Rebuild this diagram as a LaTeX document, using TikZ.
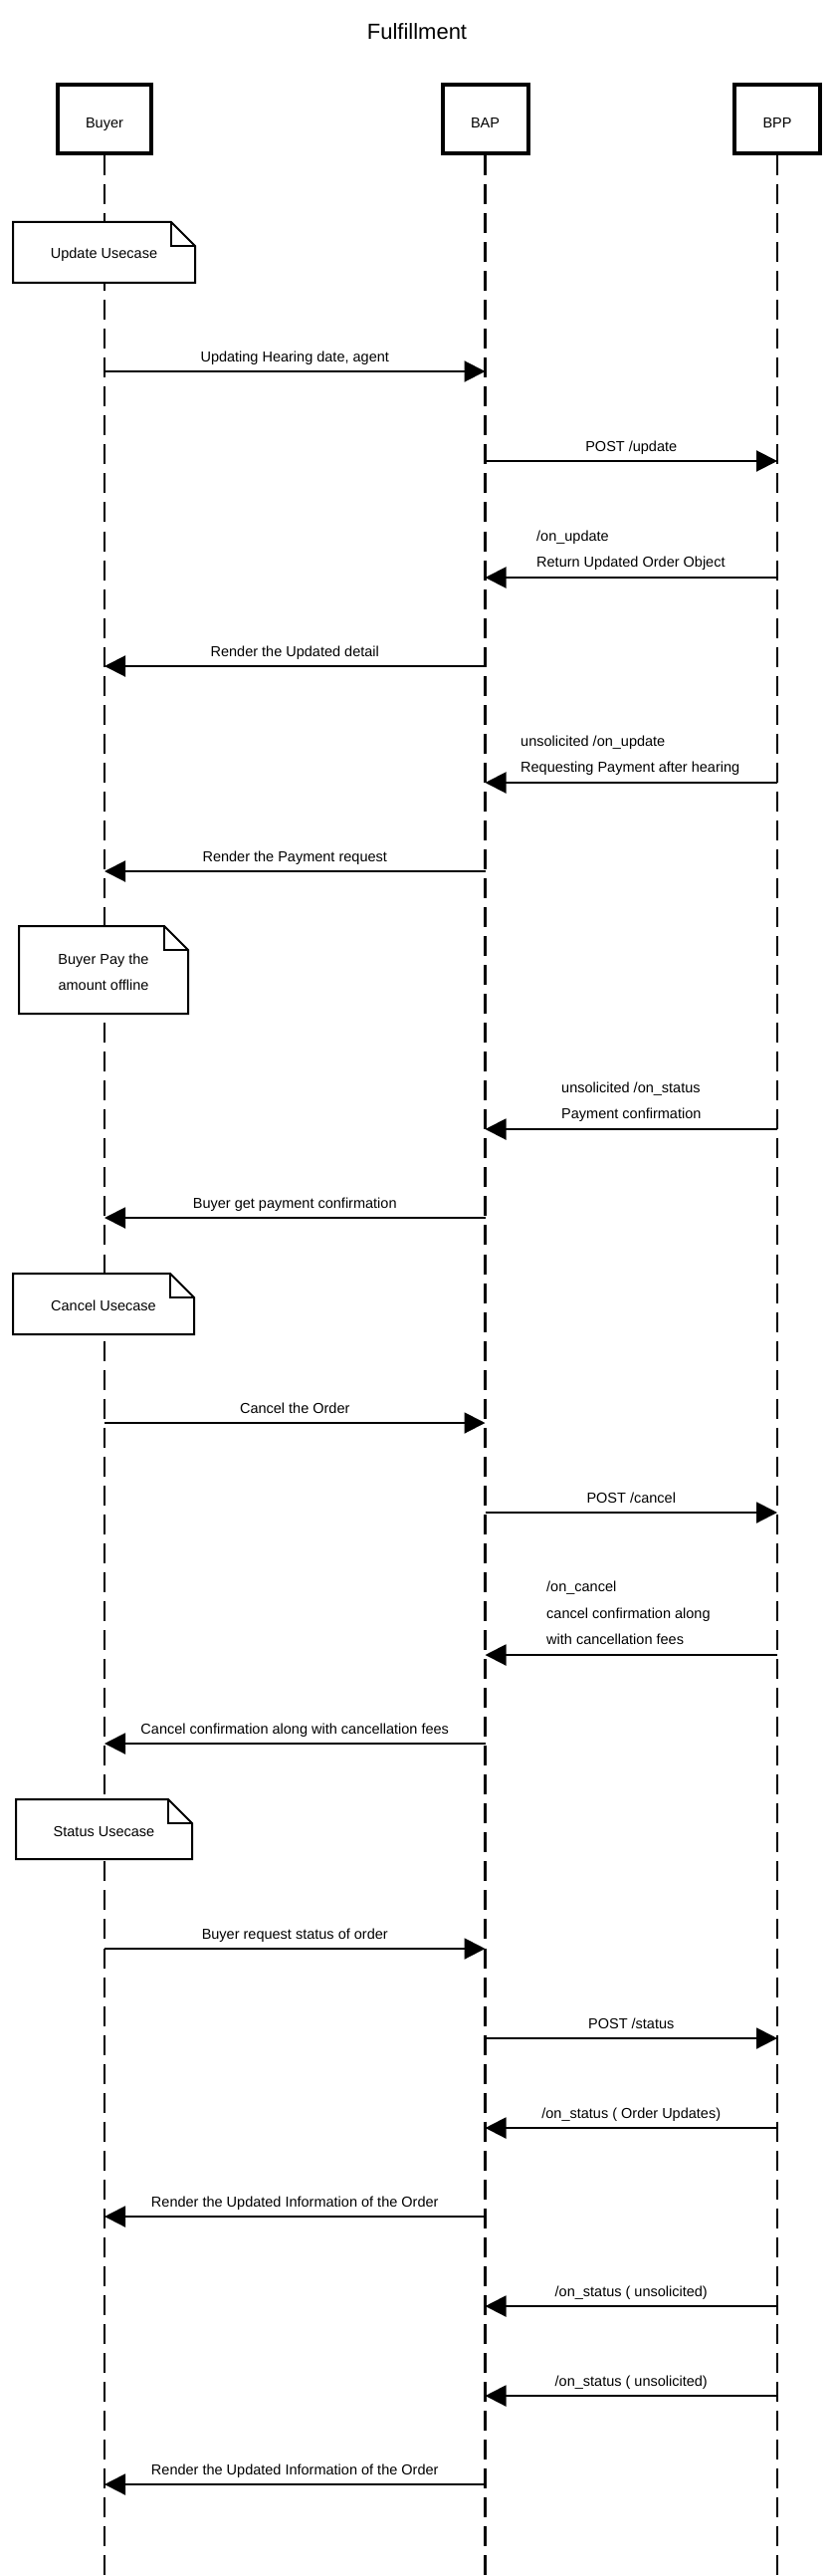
\documentclass[tikz,border=0pt]{standalone}
\usepackage{fontspec}
\setmainfont{Liberation Sans}
\usetikzlibrary{arrows.meta}
\newcommand\lblfont{\fontsize{14.5}{17}\selectfont}
\newcommand\ttlfont{\fontsize{22}{26}\selectfont}
\tikzset{
  actor/.style={draw=black, line width=4pt, fill=white, minimum height=69pt,
    text height=19pt, text depth=0pt, inner sep=0pt, font=\lblfont},
  lifeline/.style={line width=2.5pt, dash pattern=on 20pt off 9.04pt},
  notepath/.style={draw=black, line width=2pt, fill=white, line join=miter},
  msgarrow/.style={line width=2pt, -{Triangle[length=21pt,width=21pt]}},
  lbl/.style={font=\lblfont, inner sep=0pt},
  ttl/.style={font=\ttlfont, inner sep=0pt, anchor=base}
}
\newcommand\notebox[4]{%
  \filldraw[notepath] (#1,#2) -- ({#3-24},#2) -- (#3,{#2+24}) -- (#3,#4) -- (#1,#4) -- cycle;
  \draw[notepath, fill=none] ({#3-24},#2) -- ({#3-24},{#2+24}) -- (#3,{#2+24});}
\newcommand\msg[5]{%
  \draw[msgarrow] (#2 |- 0,#4) -- (#3 |- 0,#4)
    node[lbl, midway, anchor=base, yshift=10pt] (#1) {#5};}
\newcommand\msgbare[3]{%
  \draw[msgarrow] (#1 |- 0,#3) -- (#2 |- 0,#3);}
\begin{document}
\begin{tikzpicture}[x=1pt,y=-1pt]
\useasboundingbox (0,0) rectangle (836,2587);
\node[ttl] (title) at (419,40) {Fulfillment};

% actors
\node[actor, minimum width=94pt] (buyer) at (105,119.5) {Buyer};
\node[actor, minimum width=86pt] (bap) at (487.5,119.5) {BAP};
\node[actor, minimum width=86pt] (bpp) at (781,119.5) {BPP};

% lifelines
\coordinate (buyerEnd) at (buyer |- 0,2587);
\coordinate (bapEnd) at (bap |- 0,2587);
\coordinate (bppEnd) at (bpp |- 0,2587);
\draw[lifeline] (buyer.south) -- (buyerEnd);
\draw[lifeline] (bap.south) -- (bapEnd);
\draw[lifeline] (bpp.south) -- (bppEnd);

% notes
\notebox{13}{223}{196}{284}
\node[lbl, anchor=base] (note1) at (104.5,260) {Update Usecase};
\notebox{19}{930}{189}{1018}
\node[lbl, anchor=base] (note2a) at (104,968) {Buyer Pay the};
\node[lbl, anchor=base] (note2b) at (104,994) {amount offline};
\notebox{13}{1279}{195}{1340}
\node[lbl, anchor=base] (note3) at (104,1316) {Cancel Usecase};
\notebox{16}{1807}{193}{1867}
\node[lbl, anchor=base] (note4) at (104.5,1844) {Status Usecase};

% update usecase
\msg{m1}{buyer}{bap}{373}{Updating Hearing date, agent}
\msg{m2}{bap}{bpp}{463}{POST /update}
\msgbare{bpp}{bap}{580}
\node[lbl, anchor=base west] (m3a) at (539,543) {/on\_update};
\node[lbl, anchor=base west] (m3b) at (539,569) {Return Updated Order Object};
\msg{m4}{bap}{buyer}{669}{Render the Updated detail}
\msgbare{bpp}{bap}{786}
\node[lbl, anchor=base west] (m5a) at (523,749) {unsolicited /on\_update};
\node[lbl, anchor=base west] (m5b) at (523,775) {Requesting Payment after hearing};
\msg{m6}{bap}{buyer}{875}{Render the Payment request}
\msgbare{bpp}{bap}{1134}
\node[lbl, anchor=base west] (m7a) at (564,1097) {unsolicited /on\_status};
\node[lbl, anchor=base west] (m7b) at (564,1123) {Payment confirmation};
\msg{m8}{bap}{buyer}{1223}{Buyer get payment confirmation}

% cancel usecase
\msg{m9}{buyer}{bap}{1429}{Cancel the Order}
\msg{m10}{bap}{bpp}{1519}{POST /cancel}
\msgbare{bpp}{bap}{1662}
\node[lbl, anchor=base west] (m11a) at (549,1598) {/on\_cancel};
\node[lbl, anchor=base west] (m11b) at (549,1625) {cancel confirmation along};
\node[lbl, anchor=base west] (m11c) at (549,1651) {with cancellation fees};
\msg{m12}{bap}{buyer}{1751}{Cancel confirmation along with cancellation fees}

% status usecase
\msg{m13}{buyer}{bap}{1957}{Buyer request status of order}
\msg{m14}{bap}{bpp}{2047}{POST /status}
\msg{m15}{bpp}{bap}{2137}{/on\_status ( Order Updates)}
\msg{m16}{bap}{buyer}{2226}{Render the Updated Information of the Order}
\msg{m17}{bpp}{bap}{2316}{/on\_status ( unsolicited)}
\msg{m18}{bpp}{bap}{2406}{/on\_status ( unsolicited)}
\msg{m19}{bap}{buyer}{2495}{Render the Updated Information of the Order}
\end{tikzpicture}
\end{document}
